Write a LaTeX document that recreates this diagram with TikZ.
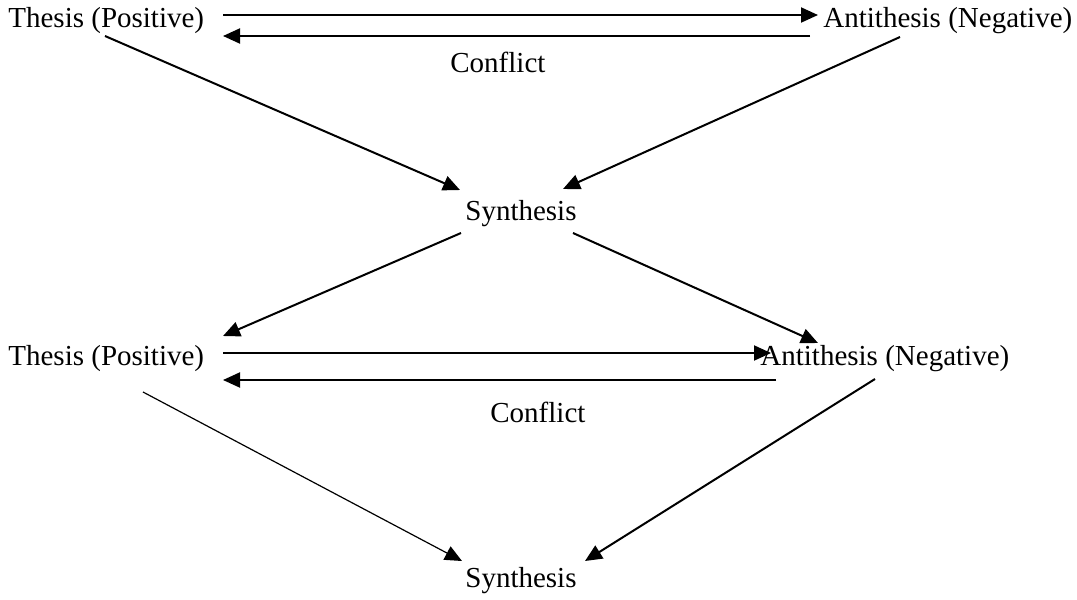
\documentclass[tikz,border=0pt]{standalone}
\usepackage{fontspec}
\setmainfont{Liberation Serif}
\usetikzlibrary{arrows.meta}
\begin{document}
\begin{tikzpicture}[x=0.5pt,y=-0.5pt,
  lbl/.style={anchor=base west,inner sep=0pt,font=\fontsize{14.5}{17}\selectfont},
  con/.style={line width=1pt,-{Triangle[length=8.5pt,width=7.5pt]}},
  thinc/.style={line width=0.6pt,-{Triangle[length=8.5pt,width=7.5pt]}}]
\useasboundingbox (0,0) rectangle (1077,600);
% top level
\node[lbl] (t1) at (8,27) {Thesis (Positive)};
\node[lbl] (a1) at (823,27) {Antithesis (Negative)};
\node[lbl] (c1) at (450,72) {Conflict};
\node[lbl] (s1) at (465,220) {Synthesis};
% second level
\node[lbl] (t2) at (8,365) {Thesis (Positive)};
\node[lbl] (a2) at (760,365) {Antithesis (Negative)};
\node[lbl] (c2) at (490,422) {Conflict};
\node[lbl] (s2) at (465,587) {Synthesis};
% connector ends
\coordinate (t1r) at (223,15);
\coordinate (a1l) at (818,15);
\coordinate (a1lb) at (810,36);
\coordinate (t1rb) at (223,36);
\coordinate (t1b) at (105,36);
\coordinate (s1tl) at (460,190);
\coordinate (a1b) at (900,37);
\coordinate (s1tr) at (563,189);
\coordinate (s1bl) at (461,233);
\coordinate (t2t) at (223,336);
\coordinate (s1br) at (573,233);
\coordinate (a2t) at (818,343);
\coordinate (t2r) at (223,353);
\coordinate (a2l) at (771,353);
\coordinate (a2lb) at (776,380);
\coordinate (t2rb) at (223,380);
\coordinate (t2b) at (143,392);
\coordinate (s2tl) at (462,561);
\coordinate (a2b) at (875,379);
\coordinate (s2tr) at (585,561);
% connectors
\draw[con] (t1r) -- (a1l);
\draw[con] (a1lb) -- (t1rb);
\draw[con] (t1b) -- (s1tl);
\draw[con] (a1b) -- (s1tr);
\draw[con] (s1bl) -- (t2t);
\draw[con] (s1br) -- (a2t);
\draw[con] (t2r) -- (a2l);
\draw[con] (a2lb) -- (t2rb);
\draw[thinc] (t2b) -- (s2tl);
\draw[con] (a2b) -- (s2tr);
\end{tikzpicture}
\end{document}
